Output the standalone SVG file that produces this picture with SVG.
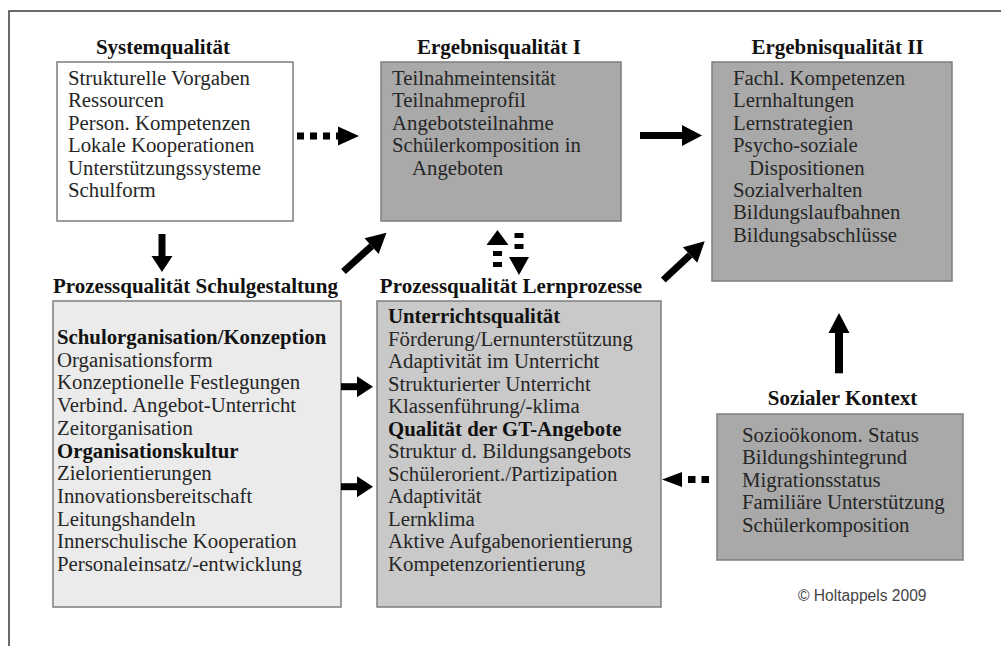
<svg xmlns="http://www.w3.org/2000/svg" width="1001" height="646" viewBox="0 0 1001 646">
<style>
.frame{fill:none;stroke:#3a3a3a;stroke-width:1.5}
.box{stroke:#7d7d7d;stroke-width:1.5}
.white{fill:#ffffff}
.dark{fill:#a9a9a9}
.mid{fill:#c9c9c9}
.light{fill:#ebebeb}
.title{font-family:"Liberation Serif","Times New Roman",serif;font-weight:bold;font-size:21px;fill:#111}
.body{font-family:"Liberation Serif","Times New Roman",serif;font-size:20.8px;fill:#262626}
.b{font-weight:bold;fill:#111}
.copy{font-family:"Liberation Sans",Arial,sans-serif;font-size:15.6px;fill:#444}
.shaft{stroke:#000;stroke-width:7;fill:none}
.dash{stroke:#000;stroke-width:7;fill:none;stroke-dasharray:7 6}
</style>
<defs>
<marker id="head" markerUnits="userSpaceOnUse" markerWidth="20" markerHeight="21" refX="0" refY="10.5" orient="auto" overflow="visible">
<path d="M0,0 L20,10.5 L0,21 Z" fill="#000"/>
</marker>
<marker id="headD" markerUnits="userSpaceOnUse" markerWidth="20" markerHeight="19" refX="0" refY="9.5" orient="auto" overflow="visible">
<path d="M0,0 L21,9.5 L0,19 Z" fill="#000"/>
</marker>
<marker id="headS" markerUnits="userSpaceOnUse" markerWidth="20" markerHeight="15" refX="0" refY="7.5" orient="auto" overflow="visible">
<path d="M0,0 L20,7.5 L0,15 Z" fill="#000"/>
</marker>
<marker id="headV" markerUnits="userSpaceOnUse" markerWidth="17" markerHeight="21" refX="0" refY="10.5" orient="auto" overflow="visible">
<path d="M0,0 L16,10.5 L0,21 Z" fill="#000"/>
</marker>
<marker id="headS2" markerUnits="userSpaceOnUse" markerWidth="15" markerHeight="22" refX="0" refY="11" orient="auto" overflow="visible">
<path d="M0,0 L15,11 L0,22 Z" fill="#000"/>
</marker>
<marker id="headS3" markerUnits="userSpaceOnUse" markerWidth="18" markerHeight="20" refX="0" refY="10" orient="auto" overflow="visible">
<path d="M0,0 L18,10 L0,20 Z" fill="#000"/>
</marker>
</defs>
<rect x="0" y="0" width="1001" height="646" fill="#ffffff"/>
<rect class="frame" x="9" y="11" width="1010" height="660"/>

<g id="systemqualitaet">
<text class="title" x="163" y="54" text-anchor="middle">Systemqualität</text>
<rect class="box white" x="57" y="62" width="236" height="159"/>
<text class="body">
<tspan x="68" y="85">Strukturelle Vorgaben</tspan>
<tspan x="68" y="107.4">Ressourcen</tspan>
<tspan x="68" y="129.8">Person. Kompetenzen</tspan>
<tspan x="68" y="152.2">Lokale Kooperationen</tspan>
<tspan x="68" y="174.6">Unterstützungssysteme</tspan>
<tspan x="68" y="197">Schulform</tspan>
</text>
</g>

<g id="ergebnisqualitaet1">
<text class="title" x="499" y="53.5" text-anchor="middle">Ergebnisqualität I</text>
<rect class="box dark" x="381" y="62" width="240" height="159"/>
<text class="body">
<tspan x="392" y="85">Teilnahmeintensität</tspan>
<tspan x="392" y="107.4">Teilnahmeprofil</tspan>
<tspan x="392" y="129.8">Angebotsteilnahme</tspan>
<tspan x="392" y="152.2">Schülerkomposition in</tspan>
<tspan x="412" y="174.6">Angeboten</tspan>
</text>
</g>

<g id="ergebnisqualitaet2">
<text class="title" x="837.5" y="53.5" text-anchor="middle">Ergebnisqualität II</text>
<rect class="box dark" x="712" y="62" width="240" height="219"/>
<text class="body">
<tspan x="733" y="85">Fachl. Kompetenzen</tspan>
<tspan x="733" y="107.4">Lernhaltungen</tspan>
<tspan x="733" y="129.8">Lernstrategien</tspan>
<tspan x="733" y="152.2">Psycho-soziale</tspan>
<tspan x="749" y="174.6">Dispositionen</tspan>
<tspan x="733" y="197">Sozialverhalten</tspan>
<tspan x="733" y="219.4">Bildungslaufbahnen</tspan>
<tspan x="733" y="241.8">Bildungsabschlüsse</tspan>
</text>
</g>

<g id="schulgestaltung">
<text class="title" x="53" y="293">Prozessqualität Schulgestaltung</text>
<rect class="box light" x="53" y="301" width="288" height="306"/>
<text class="body">
<tspan class="b" x="57" y="344">Schulorganisation/Konzeption</tspan>
<tspan x="57" y="366.7">Organisationsform</tspan>
<tspan x="57" y="389.4">Konzeptionelle Festlegungen</tspan>
<tspan x="57" y="412.1">Verbind. Angebot-Unterricht</tspan>
<tspan x="57" y="434.8">Zeitorganisation</tspan>
<tspan class="b" x="57" y="457.5">Organisationskultur</tspan>
<tspan x="57" y="480.2">Zielorientierungen</tspan>
<tspan x="57" y="502.9">Innovationsbereitschaft</tspan>
<tspan x="57" y="525.6">Leitungshandeln</tspan>
<tspan x="57" y="548.3">Innerschulische Kooperation</tspan>
<tspan x="57" y="571">Personaleinsatz/-entwicklung</tspan>
</text>
</g>

<g id="lernprozesse">
<text class="title" x="511" y="292.7" text-anchor="middle">Prozessqualität Lernprozesse</text>
<rect class="box mid" x="377" y="301" width="284" height="306"/>
<text class="body">
<tspan class="b" x="388" y="323.3">Unterrichtsqualität</tspan>
<tspan x="388" y="345.8">Förderung/Lernunterstützung</tspan>
<tspan x="388" y="368.3">Adaptivität im Unterricht</tspan>
<tspan x="388" y="390.8">Strukturierter Unterricht</tspan>
<tspan x="388" y="413.3">Klassenführung/-klima</tspan>
<tspan class="b" x="388" y="435.8">Qualität der GT-Angebote</tspan>
<tspan x="388" y="458.3">Struktur d. Bildungsangebots</tspan>
<tspan x="388" y="480.8">Schülerorient./Partizipation</tspan>
<tspan x="388" y="503.3">Adaptivität</tspan>
<tspan x="388" y="525.8">Lernklima</tspan>
<tspan x="388" y="548.3">Aktive Aufgabenorientierung</tspan>
<tspan x="388" y="570.8">Kompetenzorientierung</tspan>
</text>
</g>

<g id="sozialerkontext">
<text class="title" x="842.5" y="405" text-anchor="middle">Sozialer Kontext</text>
<rect class="box dark" x="717" y="414" width="246" height="146"/>
<text class="body">
<tspan x="742" y="441.7">Sozioökonom. Status</tspan>
<tspan x="742" y="464.2">Bildungshintegrund</tspan>
<tspan x="742" y="486.7">Migrationsstatus</tspan>
<tspan x="742" y="509.2">Familiäre Unterstützung</tspan>
<tspan x="742" y="531.7">Schülerkomposition</tspan>
</text>
</g>

<text id="copyright" class="copy" x="798" y="601">© Holtappels 2009</text>

<g id="connectors">
<line class="dash" x1="297" y1="136" x2="338" y2="136" marker-end="url(#headD)"/>
<line class="shaft" x1="640" y1="135.5" x2="682" y2="135.5" marker-end="url(#head)"/>
<line class="shaft" x1="162" y1="234" x2="162" y2="256" marker-end="url(#headV)"/>
<line class="shaft" x1="343.5" y1="271.5" x2="371.6" y2="246.1" marker-end="url(#head)"/>
<line class="shaft" x1="663.3" y1="280" x2="690.1" y2="255" marker-end="url(#head)"/>
<line class="shaft" x1="341" y1="386.7" x2="357" y2="386.7" marker-end="url(#headV)"/>
<line class="shaft" x1="341" y1="486.7" x2="357" y2="486.7" marker-end="url(#headV)"/>
<line class="shaft" style="stroke-width:8" x1="839" y1="373.3" x2="839" y2="333" marker-end="url(#head)"/>
<line class="dash" style="stroke-dasharray:7.5 6" x1="709" y1="479.5" x2="682" y2="479.5" marker-end="url(#headS)"/>
<line class="dash" style="stroke-width:9;stroke-dasharray:5 6" x1="497.5" y1="267" x2="497.5" y2="245" marker-end="url(#headS2)"/>
<line class="dash" style="stroke-width:9;stroke-dasharray:5 6 5 13" x1="519" y1="233" x2="519" y2="257" marker-end="url(#headS3)"/>
</g>
</svg>
